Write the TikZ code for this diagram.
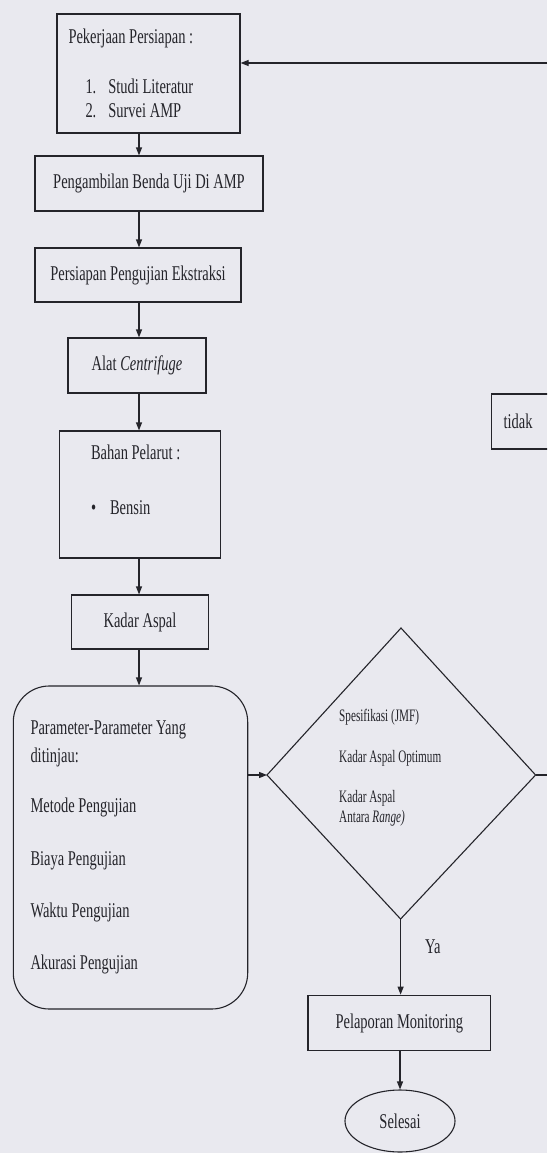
\documentclass[tikz,border=0pt]{standalone}
\usepackage{fontspec}
\setmainfont{Liberation Serif}[FakeStretch=0.69]
\newfontfamily\dfont{Liberation Serif}[FakeStretch=0.64]
\usetikzlibrary{arrows.meta,shapes.geometric}
\definecolor{bg}{RGB}{233,233,239}
\definecolor{ink}{RGB}{36,36,42}
\newcommand{\mfs}{\fontsize{21}{24}\selectfont}
\newcommand{\sfs}{\dfont\fontsize{17.5}{20}\selectfont}
\tikzset{
  box/.style={draw=ink, line width=1.1pt, inner sep=0pt, text=ink, font=\mfs},
  ln/.style={draw=ink, line width=1.1pt},
  arr/.style={ln, -{Triangle[length=8pt,width=6pt]}},
  txt/.style={inner sep=0pt, text=ink},
}
\begin{document}
\begin{tikzpicture}[x=1pt,y=-1pt]
\useasboundingbox (0,0) rectangle (547,1153);
\fill[bg] (0,0) rectangle (547,1153);
\clip (0,0) rectangle (547,1153);

\coordinate (col) at (139,0);
\coordinate (fin) at (547,63);
\coordinate (fout) at (547,775);

\node[box, minimum width=183pt, minimum height=119pt, text width=160pt, align=flush left] (b1) at (148.5,73.5)
  {Pekerjaan Persiapan :\\[26pt]
   \hspace*{17pt}1.\hspace{12pt}Studi Literatur\\
   \hspace*{17pt}2.\hspace{12pt}Survei AMP};
\node[box, minimum width=228pt, minimum height=55pt] (b2) at (149,183.5) {Pengambilan Benda Uji Di AMP};
\node[box, minimum width=206pt, minimum height=54pt] (b3) at (138,275) {Persiapan Pengujian Ekstraksi};
\node[box, minimum width=138pt, minimum height=55pt] (b4) at (137,365.5) {Alat \textit{Centrifuge}};
\node[box, minimum width=160.5pt, minimum height=127pt, text width=98pt, align=flush left] (b5) at (140,494.5)
  {Bahan Pelarut :\\[31pt]\textbullet\hspace{14pt}Bensin\\[6pt]\mbox{}};
\node[box, minimum width=137pt, minimum height=54pt] (b6) at (140,622) {Kadar Aspal};
\node[box, rounded corners=36pt, minimum width=234.4pt, minimum height=323pt, text width=200pt, align=flush left] (rb) at (130.5,847.5)
  {Parameter-Parameter Yang\\[4pt]
   ditinjau:\\[26pt]
   Metode Pengujian\\[29pt]
   Biaya Pengujian\\[28pt]
   Waktu Pengujian\\[28pt]
   Akurasi Pengujian};

\coordinate (dl) at (267,775);
\coordinate (dt) at (401,628);
\coordinate (dr) at (535.6,775);
\coordinate (db) at (400.6,919);
\draw[ln] (dl) -- (dt) -- (dr) -- (db) -- cycle;
\node[txt, font=\sfs, anchor=north west, align=flush left] (dtext) at (339,709)
  {Spesifikasi (JMF)\\[21pt]
   Kadar Aspal Optimum\\[20pt]
   Kadar Aspal\\[0pt]
   Antara \textit{Range)}};

\node[box, anchor=west, minimum height=55pt, text width=50pt, inner xsep=12pt, align=flush left] (tidak) at (491,421.5) {tidak};

\node[box, minimum width=182.7pt, minimum height=55.7pt] (pel) at (399.3,1023) {Pelaporan Monitoring};
\node[box, ellipse, minimum width=110pt, minimum height=62pt] (ell) at (400,1121) {Selesai};

\draw[arr] (fin) -- (fin -| b1.east);
\draw[arr] (b1.south -| col) -- (b2.north -| col);
\draw[arr] (b2.south -| col) -- (b3.north -| col);
\draw[arr] (b3.south -| col) -- (b4.north -| col);
\draw[arr] (b4.south -| col) -- (b5.north -| col);
\draw[arr] (b5.south -| col) -- (b6.north -| col);
\draw[arr] (b6.south -| col) -- (rb.north -| col);
\draw[arr] (rb.east |- dl) -- (dl);
\draw[ln] (dr) -- (fout);
\draw[arr] (db) -- node[txt, pos=0.37, anchor=west, xshift=24pt, font=\mfs] {Ya} (db |- pel.north);
\draw[arr] (pel.south -| ell.north) -- (ell.north);
\end{tikzpicture}
\end{document}
